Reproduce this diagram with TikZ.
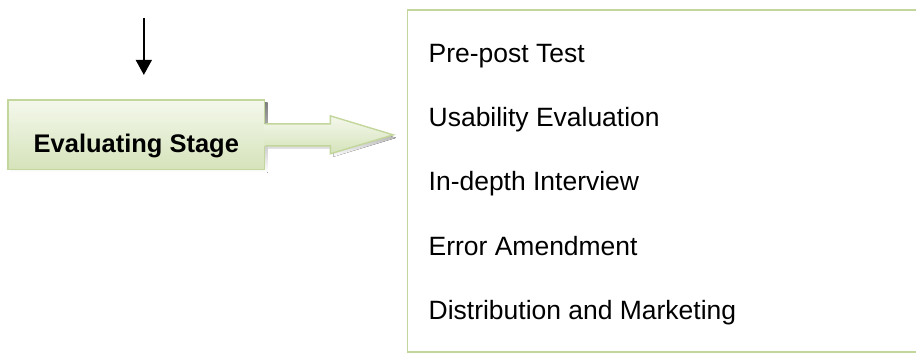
\documentclass[tikz,border=0pt]{standalone}
\usepackage{fontspec}
\setmainfont{Liberation Sans}
\usepackage{tikz}
\usetikzlibrary{arrows.meta,positioning}

\definecolor{stageline}{HTML}{C3D69B}
\definecolor{stagetop}{HTML}{F4F8EC}
\definecolor{stagebot}{HTML}{D5E3BA}
\definecolor{shade}{HTML}{A8A8A8}

\begin{document}
\begin{tikzpicture}[
  x=1pt, y=1pt,
  >=Latex,
  node distance=64.3pt,
  stagebox/.style={draw=stageline, line width=1.4pt, top color=stagetop,
    bottom color=stagebot, minimum width=257pt, minimum height=70pt,
    inner sep=0pt, text height=36pt, text depth=0pt,
    font=\fontsize{25.5}{30}\selectfont\bfseries},
  listbox/.style={minimum width=509pt, minimum height=342pt, inner sep=0pt},
  item/.style={anchor=west, inner sep=0pt, text height=19pt, text depth=0pt,
    font=\fontsize{26.5}{30}\selectfont},
  flow/.style={->, line width=1.6pt, >={Triangle[width=16pt,length=15pt]}}
]
\fill[white] (0,0) rectangle (917,354);

% stage box and its block arrow
\fill[shade] (11,181) rectangle (268,251);
\node[stagebox] (stage) at (136.5,219) {Evaluating Stage};
\fill[shade, shift={(stage.east)}] (3,8) -- (68,8) -- (68,16) -- (131,-3)
  -- (68,-22) -- (68,-14) -- (3,-14) -- cycle;
\fill[top color=stagetop, bottom color=stagebot, shift={(stage.east)}]
  (-1,11) -- (65,11) -- (65,19) -- (128,0) -- (65,-19) -- (65,-11) -- (-1,-11)
  -- cycle;
\draw[stageline, line width=1.4pt, line join=miter, shift={(stage.east)}]
  (0,11) -- (65,11) -- (65,19) -- (128,0) -- (65,-19) -- (65,-11) -- (0,-11);

% incoming arrow
\coordinate (prev) at (144,336);
\coordinate (into) at (144,279);
\draw[flow] (prev) -- (into);

% list of activities (box runs off the right edge)
\node[listbox, anchor=north west] (list) at (408,344) {};
\draw[stageline, line width=1.4pt] (list.north east) -| (list.south west)
  -- (list.south east);
\node[item] (test) at (429,301) {Pre-post Test};
\node[item, below=of test.west, anchor=west] (usab) {Usability Evaluation};
\node[item, below=of usab.west, anchor=west] (intv) {In-depth Interview};
\node[item, below=of intv.west, anchor=west] (error) {Error Amendment};
\node[item, below=of error.west, anchor=west] (distr) {Distribution and Marketing};
\end{tikzpicture}
\end{document}
